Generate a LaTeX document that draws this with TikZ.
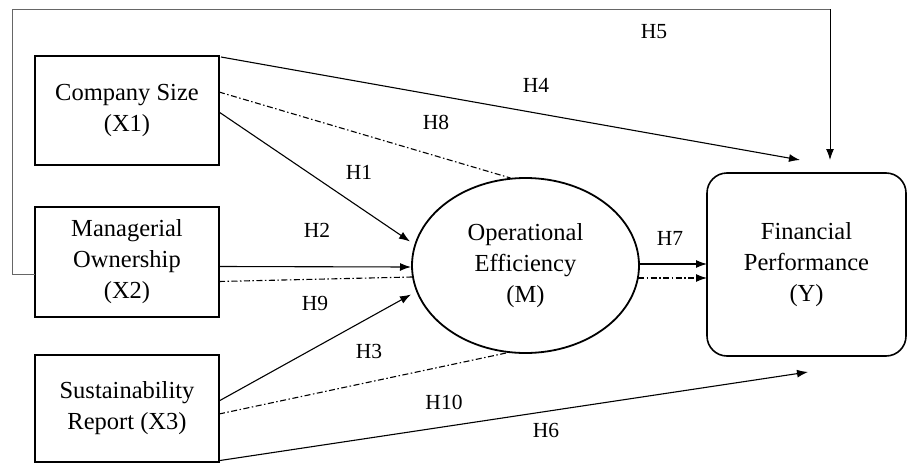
\documentclass[tikz,border=0pt]{standalone}
\usepackage{fontspec}
\setmainfont{Liberation Serif}
\usetikzlibrary{shapes.geometric,arrows.meta,calc}
\begin{document}
\begin{tikzpicture}[x=1pt,y=-1pt,
  varbox/.style={draw,line width=1.6pt,align=center,inner sep=0pt,outer sep=0pt,
    font=\fontsize{24.5}{31}\selectfont},
  lbl/.style={font=\fontsize{21.5}{26}\selectfont,inner sep=0pt},
  conn/.style={line width=1.1pt,-{Latex[length=11pt,width=8pt]}},
  dd/.style={line width=1.1pt,dash pattern=on 6pt off 2.5pt on 1.5pt off 2.5pt},
]
\useasboundingbox (0,0) rectangle (908,463);
\node[varbox,minimum width=184pt,minimum height=109pt] (cs) at (127,110.5) {Company Size\\(X1)};
\node[varbox,minimum width=184pt,minimum height=110pt] (mo) at (127,262) {Managerial\\Ownership\\(X2)};
\node[varbox,minimum width=184pt,minimum height=107pt] (sr) at (127,408.5) {Sustainability\\Report (X3)};
\node[varbox,ellipse,line width=1.8pt,minimum width=227pt,minimum height=175pt] (oe) at (525.5,265.5) {Operational\\Efficiency\\(M)};
\node[varbox,rounded corners=20pt,minimum width=199pt,minimum height=183pt] (fp) at (806.5,264.5) {Financial\\Performance\\(Y)};
% H5 path
\coordinate (h5a) at ($(mo.west)+(0,12)$);
\coordinate (h5b) at (12,274);
\coordinate (h5c) at (12,9);
\coordinate (h5d) at (830,9);
\coordinate (h5t) at ($(fp.north)+(23.5,-13)$);
\draw[line width=1pt,draw=black!60] (h5a) -- (h5b) -- (h5c) -- (h5d);
\draw[conn,line width=1pt] (h5d) -- (h5t);
% H4
\draw[conn] ($(cs.north east)+(2,1)$) -- ($(fp.north west)+(93,-13)$);
% H8
\draw[dd] ($(cs.north east)+(0,36)$) -- ($(oe.north)+(-15,0)$);
% H1
\draw[conn] ($(cs.north east)+(0,56)$) -- ($(oe.west)+(-2,-24)$);
% H2
\draw[conn] ($(mo.east)+(0,4.5)$) -- ($(oe.west)+(-1,1.5)$);
% H9
\draw[dd] ($(mo.east)+(0,19.5)$) -- ($(oe.west)+(0,11.5)$);
% H3
\draw[conn] ($(sr.east)+(0,-7.5)$) -- ($(oe.west)+(-1,29)$);
% H10
\draw[dd] ($(sr.east)+(0,5.5)$) -- ($(oe.south)+(-17,-0.5)$);
% H6
\draw[conn] ($(sr.south east)+(1,-1.5)$) -- ($(fp.south)+(1.5,16)$);
% H7
\draw[conn] ($(oe.east)+(0,-1.5)$) -- ($(fp.west)+(0,-0.5)$);
\draw[dd,-{Latex[length=11pt,width=8pt]}] ($(oe.east)+(-1,12.5)$) -- ($(fp.west)+(0,13.5)$);
% labels
\node[lbl] (l5) at (654,32) {H5};
\node[lbl] (l4) at (536,85) {H4};
\node[lbl] (l8) at (436,122) {H8};
\node[lbl] (l1) at (359,172) {H1};
\node[lbl] (l2) at (317,230) {H2};
\node[lbl] (l9) at (315,303) {H9};
\node[lbl] (l3) at (369,351) {H3};
\node[lbl] (l10) at (444,402) {H10};
\node[lbl] (l6) at (546,430) {H6};
\node[lbl] (l7) at (670,238) {H7};
\end{tikzpicture}
\end{document}
